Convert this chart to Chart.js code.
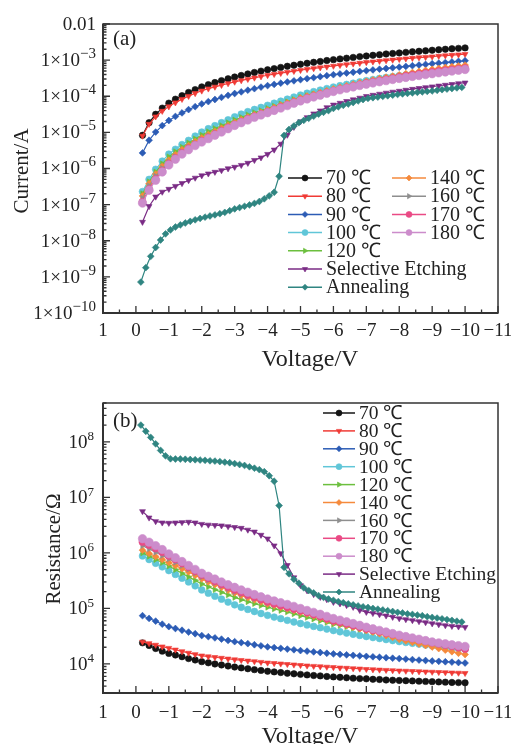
<!DOCTYPE html>
<html>
<head>
<meta charset="utf-8">
<script src="https://cdn.jsdelivr.net/npm/chart.js@4.4.1/dist/chart.umd.min.js"></script>
<style>
  html, body { margin: 0; padding: 0; background: #fff; }
  .panel { position: absolute; left: 0; width: 511px; height: 372px; }
</style>
</head>
<body>
<div class="panel" style="top:0"><canvas id="chartA" width="511" height="372"></canvas></div>
<div class="panel" style="top:372px"><canvas id="chartB" width="511" height="372"></canvas></div>
<script>
// Voltage sweep (V). Annealing was measured with a finer step.
const voltage = [-0.2,-0.4,-0.6,-0.8,-1.0,-1.2,-1.4,-1.6,-1.8,-2.0,-2.2,-2.4,-2.6,-2.8,-3.0,-3.2,-3.4,-3.6,-3.8,-4.0,
  -4.2,-4.4,-4.6,-4.8,-5.0,-5.2,-5.4,-5.6,-5.8,-6.0,-6.2,-6.4,-6.6,-6.8,-7.0,-7.2,-7.4,-7.6,-7.8,-8.0,
  -8.2,-8.4,-8.6,-8.8,-9.0,-9.2,-9.4,-9.6,-9.8,-10.0];
const voltageAnnealing = [-0.15,-0.30,-0.45,-0.60,-0.75,-0.90,-1.05,-1.20,-1.35,-1.50,-1.65,-1.80,-1.95,-2.10,-2.25,
  -2.40,-2.55,-2.70,-2.85,-3.00,-3.15,-3.30,-3.45,-3.60,-3.75,-3.90,-4.05,-4.20,-4.35,-4.50,-4.65,-4.80,-4.95,
  -5.10,-5.25,-5.40,-5.55,-5.70,-5.85,-6.00,-6.15,-6.30,-6.45,-6.60,-6.75,-6.90,-7.05,-7.20,-7.35,-7.50,-7.65,
  -7.80,-7.95,-8.10,-8.25,-8.40,-8.55,-8.70,-8.85,-9.00,-9.15,-9.30,-9.45,-9.60,-9.75,-9.90];

const seriesLabels = ['70 \u2103','80 \u2103','90 \u2103','100 \u2103','120 \u2103','140 \u2103','160 \u2103','170 \u2103','180 \u2103','Selective Etching','Annealing'];

// Current (A), panel (a)
const current70 = [8.3e-6,1.86e-5,3.16e-5,4.7e-5,6.45e-5,8.3e-5,1.04e-4,1.28e-4,1.53e-4,1.82e-4,2.10e-4,2.4e-4,2.71e-4,3.04e-4,3.41e-4,3.76e-4,4.15e-4,4.56e-4,4.97e-4,5.41e-4,
  5.83e-4,6.29e-4,6.76e-4,7.22e-4,7.69e-4,8.19e-4,8.71e-4,9.18e-4,9.75e-4,1.03e-3,1.08e-3,1.13e-3,1.19e-3,1.25e-3,1.30e-3,1.36e-3,1.41e-3,1.48e-3,1.53e-3,1.58e-3,
  1.64e-3,1.70e-3,1.76e-3,1.81e-3,1.88e-3,1.94e-3,2.0e-3,2.07e-3,2.12e-3,2.18e-3];
const current80 = [8.0e-6,1.70e-5,2.73e-5,3.9e-5,5.18e-5,6.67e-5,8.33e-5,1.01e-4,1.21e-4,1.42e-4,1.62e-4,1.82e-4,2.03e-4,2.26e-4,2.5e-4,2.74e-4,2.98e-4,3.24e-4,3.52e-4,3.81e-4,
  4.08e-4,4.36e-4,4.65e-4,4.95e-4,5.26e-4,5.59e-4,5.9e-4,6.22e-4,6.55e-4,6.9e-4,7.25e-4,7.57e-4,7.95e-4,8.29e-4,8.7e-4,9.06e-4,9.43e-4,9.81e-4,1.02e-3,1.06e-3,
  1.10e-3,1.14e-3,1.18e-3,1.21e-3,1.25e-3,1.30e-3,1.34e-3,1.38e-3,1.42e-3,1.46e-3];
const current90 = [2.7e-6,6.06e-6,1.02e-5,1.54e-5,2.13e-5,2.76e-5,3.46e-5,4.27e-5,5.14e-5,6.15e-5,7.1e-5,8.14e-5,9.29e-5,1.06e-4,1.19e-4,1.32e-4,1.47e-4,1.62e-4,1.79e-4,1.97e-4,
  2.13e-4,2.3e-4,2.49e-4,2.67e-4,2.87e-4,3.06e-4,3.27e-4,3.48e-4,3.72e-4,3.95e-4,4.16e-4,4.38e-4,4.62e-4,4.86e-4,5.11e-4,5.35e-4,5.61e-4,5.87e-4,6.14e-4,6.4e-4,
  6.69e-4,7.0e-4,7.32e-4,7.62e-4,7.96e-4,8.25e-4,8.58e-4,8.89e-4,9.25e-4,9.62e-4];
const current100 = [2.3e-7,5.0e-7,9.5e-7,1.6e-6,2.5e-6,3.4e-6,4.6e-6,6.0e-6,7.9e-6,1.02e-5,1.26e-5,1.53e-5,1.85e-5,2.23e-5,2.7e-5,3.2e-5,3.75e-5,4.3e-5,4.9e-5,5.6e-5,
  6.4e-5,7.3e-5,8.3e-5,9.5e-5,1.08e-4,1.21e-4,1.34e-4,1.48e-4,1.63e-4,1.8e-4,1.96e-4,2.12e-4,2.29e-4,2.5e-4,2.7e-4,2.9e-4,3.1e-4,3.3e-4,3.5e-4,3.7e-4,
  3.9e-4,4.1e-4,4.3e-4,4.5e-4,4.7e-4,4.88e-4,5.06e-4,5.24e-4,5.42e-4,5.6e-4];
const current120 = [2.0e-7,4.3e-7,8.0e-7,1.35e-6,2.1e-6,2.9e-6,3.9e-6,5.1e-6,6.6e-6,8.4e-6,1.04e-5,1.27e-5,1.53e-5,1.84e-5,2.2e-5,2.6e-5,3.05e-5,3.5e-5,4.0e-5,4.6e-5,
  5.3e-5,6.1e-5,7.0e-5,8.1e-5,9.3e-5,1.03e-4,1.14e-4,1.24e-4,1.36e-4,1.48e-4,1.61e-4,1.75e-4,1.89e-4,2.04e-4,2.2e-4,2.35e-4,2.5e-4,2.66e-4,2.83e-4,3.0e-4,
  3.2e-4,3.41e-4,3.62e-4,3.85e-4,4.1e-4,4.35e-4,4.6e-4,4.85e-4,5.1e-4,5.4e-4];
const current140 = [1.74e-7,3.8e-7,7.0e-7,1.15e-6,1.7e-6,2.4e-6,3.3e-6,4.3e-6,5.6e-6,7.0e-6,8.7e-6,1.07e-5,1.3e-5,1.57e-5,1.9e-5,2.25e-5,2.65e-5,3.1e-5,3.6e-5,4.2e-5,
  4.9e-5,5.7e-5,6.6e-5,7.7e-5,9.0e-5,1.02e-4,1.14e-4,1.27e-4,1.42e-4,1.6e-4,1.78e-4,1.96e-4,2.16e-4,2.37e-4,2.6e-4,2.84e-4,3.1e-4,3.36e-4,3.62e-4,3.9e-4,
  4.22e-4,4.54e-4,4.88e-4,5.23e-4,5.6e-4,5.94e-4,6.28e-4,6.62e-4,6.96e-4,7.3e-4];
const current160 = [1.5e-7,3.3e-7,6.1e-7,1.0e-6,1.5e-6,2.1e-6,2.9e-6,3.8e-6,5.0e-6,6.3e-6,7.9e-6,9.7e-6,1.19e-5,1.45e-5,1.75e-5,2.07e-5,2.45e-5,2.87e-5,3.35e-5,3.9e-5,
  4.55e-5,5.3e-5,6.1e-5,7.1e-5,8.2e-5,9.3e-5,1.04e-4,1.16e-4,1.3e-4,1.45e-4,1.6e-4,1.75e-4,1.91e-4,2.08e-4,2.25e-4,2.43e-4,2.61e-4,2.8e-4,3.0e-4,3.2e-4,
  3.41e-4,3.62e-4,3.84e-4,4.07e-4,4.3e-4,4.54e-4,4.79e-4,5.05e-4,5.32e-4,5.6e-4];
const current170 = [1.2e-7,2.7e-7,5.1e-7,8.6e-7,1.35e-6,1.95e-6,2.7e-6,3.6e-6,4.6e-6,5.8e-6,7.2e-6,8.9e-6,1.1e-5,1.35e-5,1.65e-5,1.97e-5,2.35e-5,2.77e-5,3.22e-5,3.7e-5,
  4.3e-5,5.0e-5,5.8e-5,6.8e-5,7.8e-5,8.9e-5,1.0e-4,1.13e-4,1.26e-4,1.4e-4,1.56e-4,1.72e-4,1.9e-4,2.1e-4,2.3e-4,2.5e-4,2.7e-4,2.92e-4,3.15e-4,3.4e-4,
  3.65e-4,3.9e-4,4.15e-4,4.42e-4,4.7e-4,4.96e-4,5.22e-4,5.48e-4,5.74e-4,6.0e-4];
const current180 = [1.1e-7,2.5e-7,4.7e-7,8.0e-7,1.25e-6,1.8e-6,2.5e-6,3.3e-6,4.3e-6,5.4e-6,6.7e-6,8.3e-6,1.02e-5,1.26e-5,1.55e-5,1.85e-5,2.2e-5,2.6e-5,3.03e-5,3.5e-5,
  4.05e-5,4.7e-5,5.5e-5,6.4e-5,7.4e-5,8.4e-5,9.5e-5,1.07e-4,1.2e-4,1.35e-4,1.5e-4,1.65e-4,1.81e-4,1.98e-4,2.15e-4,2.33e-4,2.51e-4,2.7e-4,2.9e-4,3.1e-4,
  3.31e-4,3.52e-4,3.74e-4,3.97e-4,4.2e-4,4.45e-4,4.7e-4,4.96e-4,5.23e-4,5.5e-4];
const currentEtching = [3.3e-8,9.0e-8,1.65e-7,2.25e-7,2.7e-7,3.25e-7,3.9e-7,4.7e-7,5.5e-7,6.4e-7,7.2e-7,8.0e-7,8.9e-7,1.0e-6,1.1e-6,1.24e-6,1.42e-6,1.7e-6,2.0e-6,2.5e-6,
  3.3e-6,4.8e-6,8.5e-6,1.4e-5,2.0e-5,2.6e-5,3.3e-5,4.0e-5,4.9e-5,5.8e-5,6.5e-5,7.3e-5,8.1e-5,9.0e-5,1.0e-4,1.08e-4,1.16e-4,1.24e-4,1.32e-4,1.4e-4,
  1.49e-4,1.58e-4,1.67e-4,1.76e-4,1.85e-4,1.95e-4,2.05e-4,2.15e-4,2.26e-4,2.37e-4];
const currentAnnealing = [7.2e-10,1.8e-9,3.7e-9,6.5e-9,1.05e-8,1.55e-8,2.0e-8,2.4e-8,2.75e-8,3.1e-8,3.45e-8,3.8e-8,4.15e-8,4.5e-8,4.85e-8,
  5.2e-8,5.6e-8,6.1e-8,6.8e-8,7.6e-8,8.3e-8,9.0e-8,9.8e-8,1.08e-7,1.22e-7,1.45e-7,1.75e-7,2.2e-7,6.1e-7,8.2e-6,1.2e-5,1.5e-5,1.85e-5,
  2.15e-5,2.45e-5,2.8e-5,3.2e-5,3.6e-5,4.0e-5,4.6e-5,5.1e-5,5.6e-5,6.1e-5,6.7e-5,7.4e-5,8.1e-5,8.7e-5,9.1e-5,9.5e-5,9.9e-5,1.03e-4,
  1.07e-4,1.12e-4,1.16e-4,1.2e-4,1.24e-4,1.28e-4,1.32e-4,1.36e-4,1.4e-4,1.46e-4,1.52e-4,1.58e-4,1.64e-4,1.7e-4,1.76e-4];

// Resistance (Ohm), panel (b)
const res70 = [24000,21500,19000,17000,15500,14500,13500,12500,11800,11000,10500,10000,9600,9200,8800,8500,8200,7900,7650,7400,
  7200,7000,6800,6650,6500,6350,6200,6100,5950,5850,5750,5650,5550,5450,5400,5300,5250,5150,5100,5050,
  5000,4950,4900,4850,4800,4750,4700,4650,4620,4580];
const res80 = [25000,23500,22000,20500,19300,18000,16800,15800,14900,14100,13600,13200,12800,12400,12000,11700,11400,11100,10800,10500,
  10300,10100,9900,9700,9500,9300,9150,9000,8850,8700,8550,8450,8300,8200,8050,7950,7850,7750,7650,7550,
  7480,7400,7320,7250,7180,7100,7030,6960,6900,6830];
const res90 = [74000,66000,59000,52000,47000,43500,40500,37500,35000,32500,31000,29500,28000,26500,25200,24200,23200,22200,21200,20300,
  19700,19100,18500,18000,17400,17000,16500,16100,15600,15200,14900,14600,14300,14000,13700,13450,13200,12950,12700,12500,
  12250,12000,11750,11550,11300,11150,10950,10800,10600,10400];
const res100 = [880000,760000,650000,560000,480000,410000,350000,300000,255000,215000,188000,166000,147000,130000,116000,105000,96000,88000,81000,75000,
  70000,65500,61000,57000,53500,50500,47500,45000,42500,40000,38000,36000,34300,32700,31200,29900,28700,27500,26400,25300,
  24400,23600,22800,22000,21300,20600,20000,19400,18900,18400];
const res120 = [1000000,870000,760000,670000,580000,500000,430000,370000,320000,275000,245000,218000,195000,175000,158000,144000,132000,122000,113000,105000,
  98000,92000,86500,80000,74000,69000,64500,60000,56000,52000,49500,47000,44500,42200,40000,38300,36600,35000,33500,32000,
  30500,29000,27700,26300,25000,24200,23400,22600,21800,21000];
const res140 = [1120000,980000,860000,760000,670000,590000,520000,455000,395000,340000,300000,268000,240000,213000,190000,172000,156000,143000,131000,120000,
  112000,105000,98000,91000,85000,79000,73000,67000,61000,56000,52500,49300,46000,43000,40000,37500,35000,32500,30000,27800,
  26000,24400,22900,21500,20200,18900,17700,16600,15600,14800];
const res160 = [1350000,1180000,1030000,900000,780000,680000,590000,510000,435000,370000,325000,288000,255000,226000,200000,181000,165000,150000,137000,126000,
  117000,109000,101000,94000,88000,81500,75500,69500,63500,58000,54500,51500,48300,45000,42000,39700,37400,35200,33100,31000,
  29500,28000,26600,25300,24000,23000,22000,21000,20000,19000];
const res170 = [1570000,1380000,1200000,1030000,880000,760000,650000,555000,470000,400000,350000,308000,272000,242000,216000,195000,176000,160000,145000,132000,
  122000,113000,105000,98000,91000,84500,78000,71500,65500,60000,56300,52800,49400,46100,43000,40600,38300,36000,34000,32000,
  30300,28700,27100,25600,24200,23000,21900,20800,19700,18600];
const res180 = [1800000,1560000,1350000,1150000,960000,820000,700000,595000,505000,430000,380000,338000,300000,268000,240000,216000,196000,178000,162000,148000,
  137000,127000,118000,109000,100000,92000,85000,78500,72000,66000,61500,57500,53500,49700,46000,43000,40300,37700,35300,33000,
  31200,29500,27900,26400,25000,24000,23100,22200,21400,20700];
const resEtching = [5.6e6,4.3e6,3.7e6,3.5e6,3.45e6,3.5e6,3.55e6,3.6e6,3.5e6,3.3e6,3.2e6,3.15e6,3.1e6,3.0e6,2.9e6,2.8e6,2.6e6,2.4e6,2.1e6,1.8e6,
  1.35e6,9.8e5,6.0e5,3.6e5,2.6e5,2.1e5,1.8e5,1.6e5,1.45e5,1.3e5,1.22e5,1.14e5,1.06e5,9.3e4,8.6e4,8.2e4,7.8e4,7.4e4,7.0e4,6.6e4,
  6.35e4,6.1e4,5.85e4,5.6e4,5.35e4,5.15e4,4.95e4,4.8e4,4.7e4,4.6e4];
const resAnnealing = [2.0e8,1.55e8,1.2e8,9.2e7,7.0e7,5.6e7,4.95e7,4.9e7,4.9e7,4.85e7,4.8e7,4.75e7,4.7e7,4.65e7,4.55e7,
  4.5e7,4.4e7,4.3e7,4.2e7,4.05e7,3.9e7,3.75e7,3.55e7,3.35e7,3.15e7,2.9e7,2.45e7,1.95e7,7.1e6,5.5e5,4.2e5,3.35e5,2.85e5,
  2.35e5,2.1e5,1.9e5,1.7e5,1.58e5,1.48e5,1.4e5,1.33e5,1.27e5,1.21e5,1.16e5,1.11e5,1.07e5,1.04e5,1.0e5,9.7e4,9.4e4,9.1e4,
  8.8e4,8.5e4,8.3e4,8.0e4,7.8e4,7.6e4,7.4e4,7.1e4,6.9e4,6.7e4,6.5e4,6.3e4,6.1e4,5.9e4,5.7e4];

// Axis ticks
const xTickValues = [1,0,-1,-2,-3,-4,-5,-6,-7,-8,-9,-10,-11];
const xTickLabels = ['1','0','\u22121','\u22122','\u22123','\u22124','\u22125','\u22126','\u22127','\u22128','\u22129','\u221210','\u221211'];
const yTicksA = [1e-2,1e-3,1e-4,1e-5,1e-6,1e-7,1e-8,1e-9,1e-10];
const yTickBaseA = ['0.01','1\u00d710','1\u00d710','1\u00d710','1\u00d710','1\u00d710','1\u00d710','1\u00d710','1\u00d710'];
const yTickSupA = ['','\u22123','\u22124','\u22125','\u22126','\u22127','\u22128','\u22129','\u221210'];
const yTicksB = [1e4,1e5,1e6,1e7,1e8];
const yTickBaseB = ['10','10','10','10','10'];
const yTickSupB = ['4','5','6','7','8'];

// Styles
const colors = ['#141414','#f03a35','#2c5cb5','#60c6d8','#6cbf3e','#f58a3c','#8e8e8e','#ea4a85','#cc8ccb','#7a2b85','#2f8581'];
const pointStyles = ['circle','triangle','rectRot','circle','triangle','rectRot','triangle','circle','circle','triangle','rectRot'];
const pointRotations = [0,180,0,0,90,0,90,0,0,180,0];
const pointRadii = [3.2,3.4,3.4,3.4,3.4,3.4,3.4,3.6,4.2,3.4,3.4];
const xSeries = [voltage,voltage,voltage,voltage,voltage,voltage,voltage,voltage,voltage,voltage,voltageAnnealing];

const serif = '"Liberation Serif", "Times New Roman", serif';
const textColor = '#222';

function makeDatasets(ySeries) {
  return ySeries.map((ys, i) => ({
    label: seriesLabels[i],
    data: ys.map((v, j) => ({ x: xSeries[i][j], y: v })),
    borderColor: colors[i],
    backgroundColor: colors[i],
    borderWidth: 1.2,
    pointStyle: pointStyles[i],
    pointRotation: pointRotations[i],
    pointRadius: pointRadii[i],
    pointBorderWidth: 0.6,
    order: -i
  }));
}

function drawSup(ctx, base, sup, xRight, y, size, supSize, lift) {
  ctx.textBaseline = 'middle';
  ctx.textAlign = 'left';
  ctx.font = supSize + 'px ' + serif;
  const ws = sup ? ctx.measureText(sup).width : 0;
  ctx.font = size + 'px ' + serif;
  const wb = ctx.measureText(base).width;
  ctx.fillText(base, xRight - ws - wb, y + 1);
  if (sup) {
    ctx.font = supSize + 'px ' + serif;
    ctx.fillText(sup, xRight - ws, y - lift);
  }
}

const framePlugin = {
  id: 'frame',
  afterDraw(chart, args, o) {
    const { ctx, chartArea: a } = chart;
    const xs = chart.scales.x, ys = chart.scales.y;
    ctx.save();
    ctx.strokeStyle = '#333';
    ctx.fillStyle = textColor;

    // box
    ctx.lineWidth = 1.5;
    ctx.strokeRect(a.left, a.top, a.right - a.left, a.bottom - a.top);
    ctx.lineWidth = 2;
    ctx.beginPath();
    ctx.moveTo(a.left, a.top); ctx.lineTo(a.left, a.bottom); ctx.lineTo(a.right, a.bottom);
    ctx.stroke();

    // x ticks (inward)
    ctx.lineWidth = 1.3;
    ctx.beginPath();
    for (let v = 1; v >= -11; v -= 0.5) {
      const px = xs.getPixelForValue(v);
      const len = Number.isInteger(v) ? 7 : 3.5;
      ctx.moveTo(px, a.bottom); ctx.lineTo(px, a.bottom - len);
    }
    // y ticks (inward), decades plus minor 2..9
    const lo = Math.floor(Math.log10(ys.min)), hi = Math.ceil(Math.log10(ys.max));
    for (let d = lo; d <= hi; d++) {
      for (let m = 1; m <= 9; m++) {
        const v = m * Math.pow(10, d);
        if (v < ys.min * 0.999 || v > ys.max * 1.001) continue;
        const py = ys.getPixelForValue(v);
        const len = m === 1 ? 7 : 3.5;
        ctx.moveTo(a.left, py); ctx.lineTo(a.left + len, py);
      }
    }
    ctx.stroke();

    // x labels
    ctx.font = '19px ' + serif;
    ctx.textAlign = 'center';
    ctx.textBaseline = 'middle';
    xTickValues.forEach((v, i) => {
      ctx.fillText(xTickLabels[i], xs.getPixelForValue(v), a.bottom + o.xLabelGap);
    });

    // y labels
    o.yTicks.forEach((v, i) => {
      drawSup(ctx, o.yBase[i], o.ySup[i], o.yLabelRight, ys.getPixelForValue(v), 19, o.supSize, o.supLift);
    });

    // axis titles
    ctx.font = '24px ' + serif;
    ctx.textAlign = 'center';
    ctx.textBaseline = 'alphabetic';
    ctx.fillText('Voltage/V', 310, o.xTitleBaseline);
    ctx.save();
    ctx.translate(o.yTitleX, o.yTitleY);
    ctx.rotate(-Math.PI / 2);
    ctx.font = '21px ' + serif;
    ctx.fillText(o.yTitle, 0, 0);
    ctx.restore();

    // panel tag
    ctx.font = '21px ' + serif;
    ctx.textAlign = 'left';
    ctx.textBaseline = 'middle';
    ctx.fillText(o.tag, 113, o.tagY);

    // legend
    const ds = chart.data.datasets;
    ctx.font = o.legendFont + 'px ' + serif;
    o.legend.forEach(e => {
      const d = ds[e.i];
      ctx.strokeStyle = d.borderColor;
      ctx.fillStyle = d.backgroundColor;
      ctx.lineWidth = 1.5;
      ctx.beginPath();
      ctx.moveTo(e.x, e.y); ctx.lineTo(e.x + o.lineLen, e.y);
      ctx.stroke();
      ctx.lineWidth = 0.6;
      Chart.helpers.drawPoint(ctx, { pointStyle: d.pointStyle, rotation: d.pointRotation, radius: 3, borderWidth: 0.6 }, e.x + o.lineLen / 2, e.y);
      ctx.fillStyle = textColor;
      ctx.textAlign = 'left';
      ctx.textBaseline = 'middle';
      ctx.fillText(d.label, e.x + o.lineLen + 4, e.y + 1);
    });
    ctx.restore();
  }
};

function rows(entries, x, y0, step) {
  return entries.map((i, k) => ({ i: i, x: x, y: y0 + step * k }));
}

function makeChart(id, ySeries, yScale, padding, frame) {
  return new Chart(document.getElementById(id), {
    type: 'line',
    data: { datasets: makeDatasets(ySeries) },
    options: {
      responsive: false,
      animation: false,
      events: [],
      layout: { padding: padding },
      plugins: { legend: { display: false }, tooltip: { enabled: false }, frame: frame },
      scales: {
        x: { type: 'linear', min: -11, max: 1, reverse: true, display: false },
        y: Object.assign({ type: 'logarithmic', display: false }, yScale)
      }
    },
    plugins: [framePlugin]
  });
}

makeChart('chartA',
  [current70, current80, current90, current100, current120, current140, current160, current170, current180, currentEtching, currentAnnealing],
  { min: 1e-10, max: 1e-2 },
  { left: 103, right: 13, top: 24, bottom: 59 },
  {
    yTicks: yTicksA, yBase: yTickBaseA, ySup: yTickSupA, yLabelRight: 96, supSize: 15, supLift: 6,
    xLabelGap: 18, xTitleBaseline: 366, yTitle: 'Current/A', yTitleX: 28, yTitleY: 171,
    tag: '(a)', tagY: 39, legendFont: 20, lineLen: 34,
    legend: rows([0, 1, 2, 3, 4, 9, 10], 288, 178, 18.2).concat(rows([5, 6, 7, 8], 392, 178, 18.2))
  });

makeChart('chartB',
  [res70, res80, res90, res100, res120, res140, res160, res170, res180, resEtching, resAnnealing],
  { min: 3000, max: 5e8 },
  { left: 103, right: 13, top: 31, bottom: 51 },
  {
    yTicks: yTicksB, yBase: yTickBaseB, ySup: yTickSupB, yLabelRight: 94, supSize: 13, supLift: 5,
    xLabelGap: 20, xTitleBaseline: 371, yTitle: 'Resistance/\u03a9', yTitleX: 60, yTitleY: 177,
    tag: '(b)', tagY: 49, legendFont: 19.5, lineLen: 32,
    legend: rows([0, 1, 2, 3, 4, 5, 6, 7, 8, 9, 10], 323, 41, 17.9)
  });
</script>
</body>
</html>
